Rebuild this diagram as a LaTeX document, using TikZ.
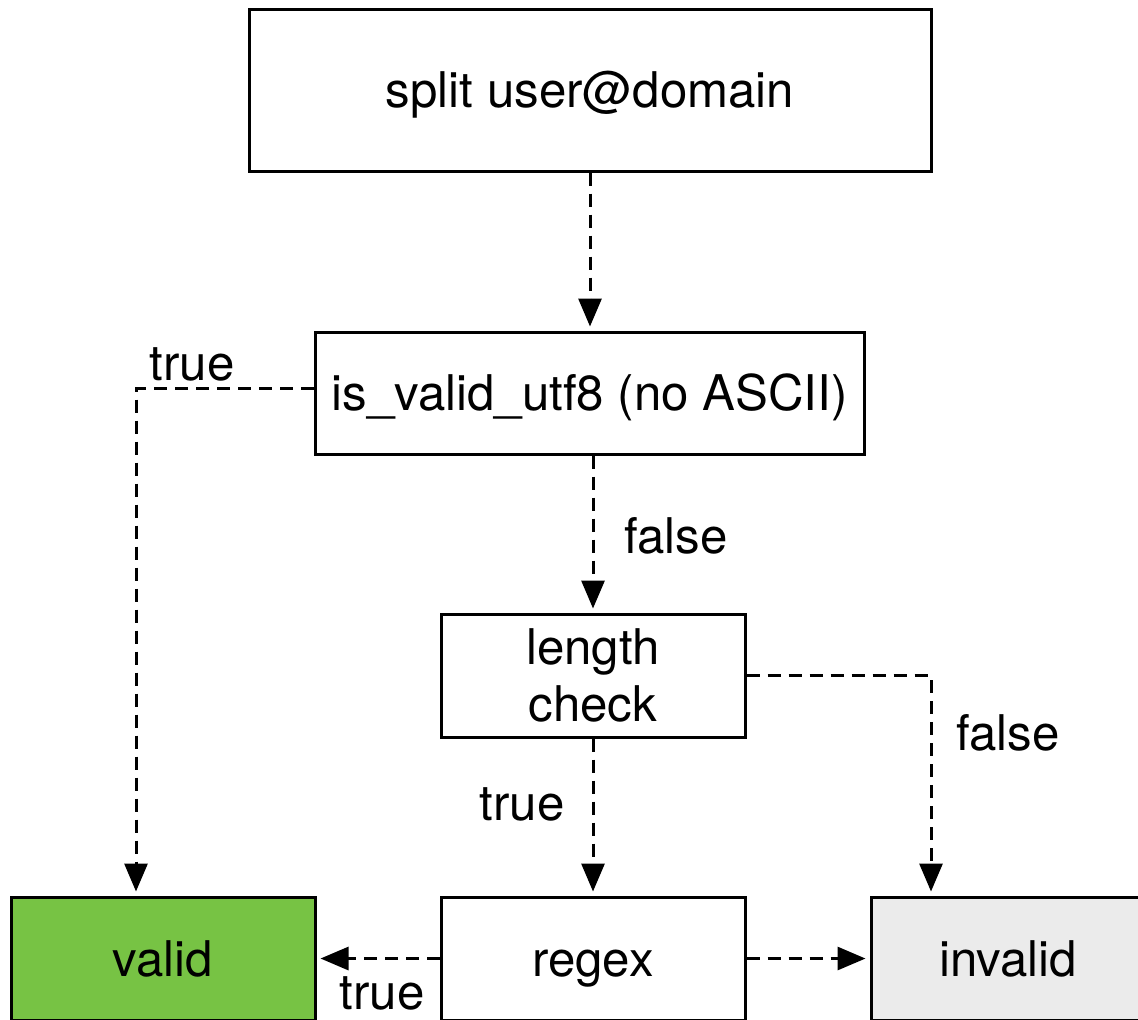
\documentclass[tikz,border=0pt]{standalone}
\usepackage{fontspec}
\setmainfont{TeX Gyre Heros}
\usetikzlibrary{arrows.meta}
\definecolor{validgreen}{RGB}{119,195,68}
\definecolor{invalidgrey}{RGB}{235,235,235}
\tikzset{
	stepbox/.style={draw,line width=1.5pt,rectangle,inner sep=0pt,
		minimum width=152pt,minimum height=61.5pt,align=center,
		font=\fontsize{24.6}{28.5}\selectfont},
	oneline/.style={text height=22pt,text depth=4.3pt},
	link/.style={line width=1.5pt,dash pattern=on 6.5pt off 4pt,
		-{Triangle[length=14pt,width=11.5pt]},shorten >=2pt},
	lbl/.style={font=\fontsize{24.6}{28.5}\selectfont,inner sep=0pt,anchor=base}
}
\begin{document}
\begin{tikzpicture}[x=0.5pt,y=-0.5pt]
		\path[use as bounding box,clip] (0,0) rectangle (1138,1019);
		% boxes
		\node[stepbox,oneline,minimum width=341pt,minimum height=81pt] (split) at (590,90) {split user@domain};
		\node[stepbox,oneline,minimum width=274.5pt,minimum height=61pt] (utf8) at (589.5,393) {is\_valid\_utf8 (no ASCII)};
		\node[stepbox] (len) at (593,675.5) {length\\check};
		\node[stepbox,oneline] (regex) at (593,958.5) {regex};
		\node[stepbox,oneline,fill=validgreen] (valid) at (163,958.5) {valid};
		\node[stepbox,oneline,fill=invalidgrey,minimum width=137pt] (invalid) at (1008,958.5) {invalid};
		% connectors
		\draw[link] (split.south) -- (split.south |- utf8.north);
		\draw[link] (utf8.south -| len.north) -- (len.north);
		\draw[link] ([yshift=2.5pt]utf8.west) -| ([xshift=-13.5pt]valid.north);
		\draw[link] (len.east) -| ([xshift=-38.5pt]invalid.north);
		\draw[link] (len.south) -- (regex.north);
		\draw[link] (regex.west) -- (valid.east);
		\draw[link] (regex.east) -- (invalid.west);
		% labels
		\node[lbl] (t1) at (192,380) {true};
		\node[lbl] (f1) at (676,553) {false};
		\node[lbl] (f2) at (1008,750) {false};
		\node[lbl] (t2) at (522,820) {true};
		\node[lbl] (t3) at (382,1009) {true};
\end{tikzpicture}
\end{document}
